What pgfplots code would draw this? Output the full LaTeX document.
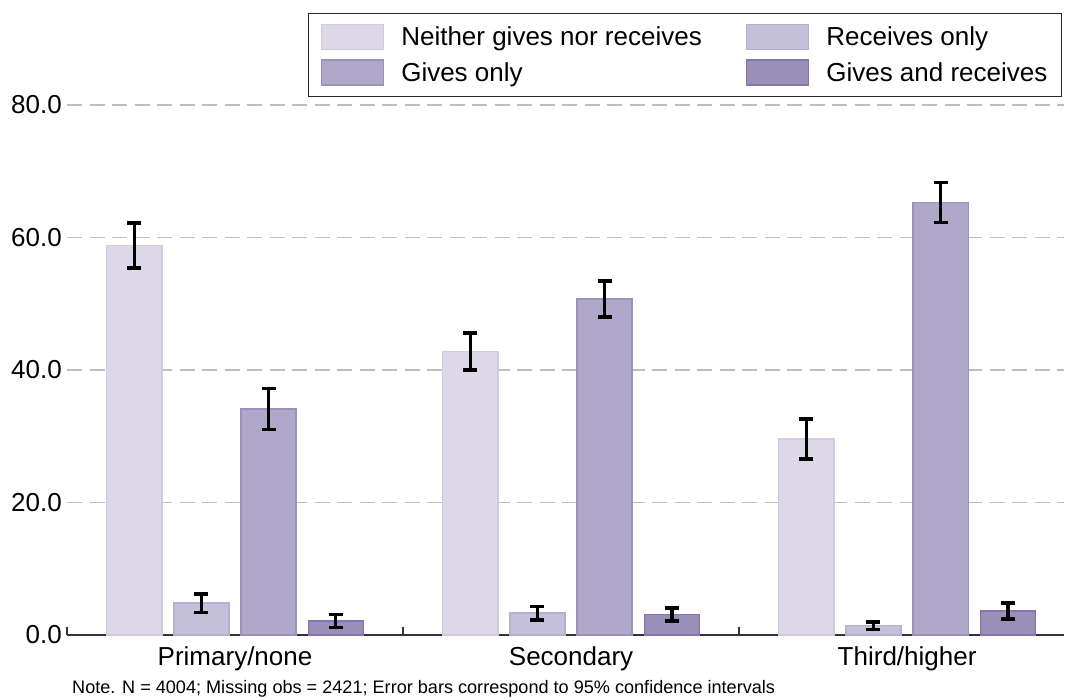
\documentclass[border=0pt]{standalone}
\usepackage{pgfplots}
\pgfplotsset{compat=1.18}
\usepackage{pgfplotstable}
\usepackage{fontspec}
\setmainfont{Liberation Sans}
\definecolor{cA}{HTML}{DCD8E8}\definecolor{cAd}{HTML}{CFCBE1}
\definecolor{cB}{HTML}{C5C0DA}\definecolor{cBd}{HTML}{B5AFD0}
\definecolor{cC}{HTML}{AFA8C9}\definecolor{cCd}{HTML}{9A91BD}
\definecolor{cD}{HTML}{9A8FB9}\definecolor{cDd}{HTML}{8476AC}
\definecolor{gridc}{HTML}{BEBEBE}
\pgfplotstableread{
x y e
0.2 58.8 3.4
1.2 42.8 2.8
2.2 29.6 3.0
}\tA
\pgfplotstableread{
x y e
0.4 4.8 1.4
1.4 3.3 1.0
2.4 1.4 0.6
}\tB
\pgfplotstableread{
x y e
0.6 34.1 3.1
1.6 50.7 2.7
2.6 65.3 3.0
}\tC
\pgfplotstableread{
x y e
0.8 2.1 1.0
1.8 3.1 1.0
2.8 3.6 1.2
}\tD
\begin{document}
\begin{tikzpicture}
\begin{axis}[
  scale only axis, width=997bp, height=530bp,
  xmin=0, xmax=2.967, ymin=0, ymax=80,
  axis x line=bottom, axis y line=left,
  x axis line style={line width=1.5bp, draw=black!80, -},
  y axis line style={draw=none},
  ybar, bar width=0.164, bar shift=0pt,
  major tick length=0pt,
  xtick={0.5,1.5,2.5}, xticklabels={Primary/none,Secondary,Third/higher},
  extra x ticks={0,1,2}, extra x tick labels={},
  extra x tick style={major tick length=8bp, tick align=inside, tick style={line width=1.5bp, draw=black!80}},
  xticklabel style={anchor=base, yshift=-30bp, inner sep=0pt},
  ytick={0,20,40,60,80},
  yticklabel style={anchor=east, inner sep=0pt, xshift=-5bp},
  yticklabel={\pgfmathprintnumber[fixed,fixed zerofill,precision=1]{\tick}},
  ymajorgrids, major y grid style={gridc, line width=1.5bp, dash pattern=on 15bp off 7.5bp},
  /pgf/number format/assume math mode=true,
  tick label style={font=\fontsize{26bp}{31bp}\selectfont},
  error bars/y dir=both, error bars/y explicit,
  error bars/error bar style={line width=3.3bp, black},
  error bars/error mark options={rotate=90, line width=3.5bp, mark size=7bp, black},
  legend columns=2,
  legend image code/.code={\draw[#1] (0bp,-12.5bp) rectangle (62bp,12.5bp);},
  legend style={at={(axis description cs:0.998,1.015)}, anchor=south east,
    draw=black!85, line width=1.2bp, font=\fontsize{26bp}{30bp}\selectfont,
    inner xsep=12bp, inner ysep=10.5bp, row sep=9bp,
    /tikz/every odd column/.append style={column sep=15bp},
    /tikz/every even column/.append style={column sep=42bp}},
  legend cell align=left,
]
\addplot[fill=cA, draw=cAd, line width=1.5bp] table[x=x,y=y,y error=e]{\tA};
\addlegendentry{Neither gives nor receives}
\addplot[fill=cB, draw=cBd, line width=1.5bp] table[x=x,y=y,y error=e]{\tB};
\addlegendentry{Receives only}
\addplot[fill=cC, draw=cCd, line width=1.5bp] table[x=x,y=y,y error=e]{\tC};
\addlegendentry{Gives only}
\addplot[fill=cD, draw=cDd, line width=1.5bp] table[x=x,y=y,y error=e]{\tD};
\addlegendentry{Gives and receives}
\end{axis}
\node[anchor=base west, font=\fontsize{18.1bp}{22bp}\selectfont, inner sep=0pt] at (5bp,-58bp) {Note. N = 4004; Missing obs = 2421; Error bars correspond to 95\% confidence intervals};
\pgfresetboundingbox
\path (-67bp,-65bp) rectangle (999bp,635bp);
\end{tikzpicture}
\end{document}
